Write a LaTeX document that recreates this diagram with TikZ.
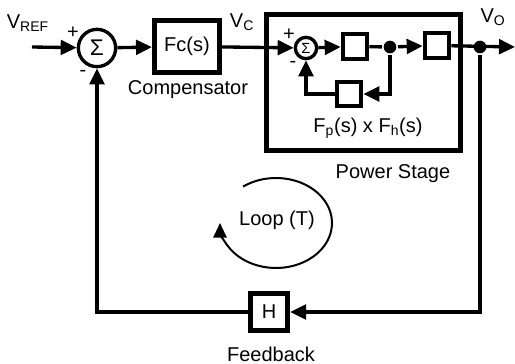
\documentclass[tikz,border=0pt]{standalone}
\usepackage{fontspec}
\setmainfont{Liberation Sans}
\usetikzlibrary{arrows.meta}

\begin{document}
\begin{tikzpicture}[x=.75pt,y=-.75pt,>={Triangle[length=12pt,width=11pt]},
    font=\fontsize{15}{18}\selectfont,line width=2.5pt,
    sumc/.style={draw,circle,inner sep=0pt,minimum size=28pt,font=\fontsize{17}{18}\selectfont},
    sums/.style={draw,circle,inner sep=0pt,minimum size=16pt,font=\fontsize{11}{12}\selectfont},
    blk/.style={draw,line width=3.8pt,inner sep=0pt},
    iblk/.style={draw,line width=3pt,inner sep=0pt,minimum width=18.5pt,minimum height=18.5pt},
    jdot/.style={circle,fill,inner sep=0pt,minimum size=9.5pt}]
  \useasboundingbox (0,0) rectangle (515,364);
  % outer loop
  \coordinate (in) at (32,47);
  \coordinate (out) at (515,47);
  \node[sumc] (s1) at (97,48) {Σ};
  \node[blk,minimum width=48.75pt,minimum height=39pt] (fc) at (187,46.5) {Fc(s)};
  \node at (188,90) {Compensator};
  \node[anchor=base east] at (55,28) {V\textsubscript{REF}};
  \node at (73,33) {+};
  \node at (83,73) {-};
  \node at (242,22) {V\textsubscript{C}};
  % power stage
  \node[blk,minimum width=145.5pt,minimum height=102pt] (ps) at (363.5,82.5) {};
  \node[sums] (s2) at (306,48) {Σ};
  \node[iblk] (b1) at (355,46.5) {};
  \node[jdot] (d1) at (390,47) {};
  \node[iblk] (b2) at (437,45.5) {};
  \node[iblk] (b3) at (349,94) {};
  \node at (289,35) {+};
  \node at (293,64) {-};
  \node at (368,128) {F\textsubscript{p}(s) x F\textsubscript{h}(s)};
  \node at (393,174) {Power Stage};
  \node at (493,17) {V\textsubscript{O}};
  \node[jdot] (d2) at (480,47) {};
  % feedback
  \node[blk,minimum size=27.75pt] (h) at (269,312) {H};
  \node at (271,354) {Feedback};
  \draw[->] (in) -- (s1);
  \draw[->] (s1) -- (fc);
  \draw[->] (fc) -- (s2);
  \draw[->] (s2) -- (b1);
  \draw (b1) -- (d1);
  \draw[->] (d1) -- (b2);
  \draw[->] (d1) |- (b3);
  \draw[->] (b3) -| (s2);
  \draw[->] (b2) -- (out);
  \draw[->] (d2) |- (h);
  \draw[->] (h) -| (s1);
  % loop gain
  \node (lp) at (277,220) {Loop (T)};
  \draw[line width=1.5pt,-{Triangle[length=11pt,width=10pt]}] (276,223) ++(234:56 and 45)
    arc[start angle=234,end angle=540,x radius=56,y radius=45];
\end{tikzpicture}
\end{document}
